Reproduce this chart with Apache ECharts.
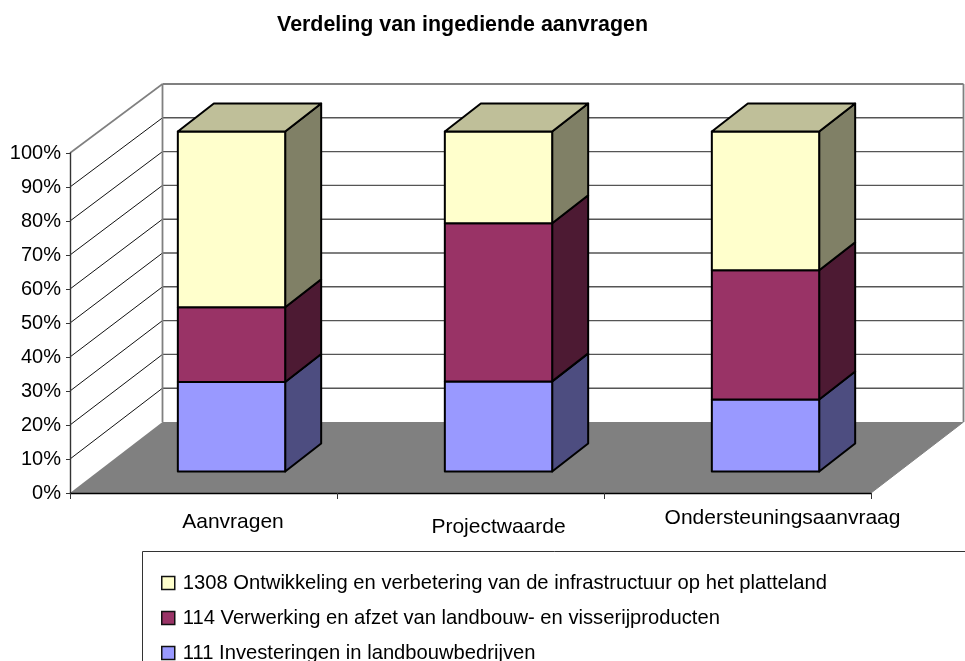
<!DOCTYPE html>
<html><head><meta charset="utf-8">
<style>html,body{margin:0;padding:0;background:#fff}#c{width:965px;height:661px}</style>
<script src="https://cdn.jsdelivr.net/npm/echarts@6/dist/echarts.min.js"></script>
</head><body><div id="c"></div>
<script>
const titleText = 'Verdeling van ingediende aanvragen';
const categories = ['Aanvragen', 'Projectwaarde', 'Ondersteuningsaanvraag'];
const seriesNames = ['111 Investeringen in landbouwbedrijven',
  '114 Verwerking en afzet van landbouw- en visserijproducten',
  '1308 Ontwikkeling en verbetering van de infrastructuur op het platteland'];
const values111 = [26.3, 26.5, 21.2];
const values114 = [22.0, 46.5, 38.0];
const values1308 = [51.7, 27.0, 40.8];
const yTicks = [0, 10, 20, 30, 40, 50, 60, 70, 80, 90, 100];

const font = 'Liberation Sans';
const faces = [
  { front: '#9999FF', side: '#4D4D80', top: '#BFBFDF' },
  { front: '#993366', side: '#4D1A33', top: '#BF8099' },
  { front: '#FFFFCC', side: '#808066', top: '#BFBF99' }
];
const wall = { dx: 92.5, dyBottom: -71, dyTop: -69 };
const bar = { dx: 36, dy: -28, offX: 28, offY: -21.5, ratio: 0.402 };
const gray = '#808080', ink = '#000';

function wallDy(v) { return wall.dyBottom + (wall.dyTop - wall.dyBottom) * v / 100; }
function poly(pts, fill, stroke, lw) {
  return { type: 'polygon', shape: { points: pts },
    style: { fill: fill, stroke: stroke || null, lineWidth: lw || 0, lineJoin: 'round' } };
}
function line(a, b, stroke, lw) {
  return { type: 'line', shape: { x1: a[0], y1: a[1], x2: b[0], y2: b[1] },
    style: { stroke: stroke, lineWidth: lw, fill: null } };
}
function renderWall(params, api) {
  const v = api.value(0);
  const last = categories.length - 1;
  const halfBand = api.size([1, 0])[0] / 2;
  const l = api.coord([0, v]); l[0] -= halfBand;
  const r = api.coord([last, v]); r[0] += halfBand;
  const bl = [l[0] + wall.dx, l[1] + wallDy(v)];
  const br = [r[0] + wall.dx, r[1] + wallDy(v)];
  const kids = [];
  if (v === 0) {
    kids.push(poly([l, r, br, bl], gray));
    kids.push(line(r, br, gray, 1));
  } else if (v === 100) {
    kids.push(line(l, bl, gray, 1.6));
    kids.push(line(bl, br, gray, 1.8));
    const b0 = api.coord([0, 0]); const b1 = api.coord([last, 0]);
    kids.push(line(bl, [b0[0] - halfBand + wall.dx, b0[1] + wallDy(0)], gray, 1.8));
    kids.push(line(br, [b1[0] + halfBand + wall.dx, b1[1] + wallDy(0)], gray, 1.8));
  } else {
    kids.push(line(l, bl, '#111', 1));
    kids.push(line(bl, br, '#555', 1.4));
  }
  return { type: 'group', children: kids };
}
function makeRender(k) {
  return function (params, api) {
    const w = api.size([1, 0])[0] * bar.ratio;
    const c0 = api.coord([api.value(0), api.value(1)]);
    const c1 = api.coord([api.value(0), api.value(2)]);
    const x0 = c0[0] + bar.offX - w / 2, x1 = x0 + w;
    const y0 = c0[1] + bar.offY, y1 = c1[1] + bar.offY;
    const kids = [
      poly([[x1, y0], [x1 + bar.dx, y0 + bar.dy], [x1 + bar.dx, y1 + bar.dy], [x1, y1]], faces[k].side, ink, 2),
      poly([[x0, y0], [x1, y0], [x1, y1], [x0, y1]], faces[k].front, ink, 2)
    ];
    if (k === 2) kids.push(poly([[x0, y1], [x1, y1], [x1 + bar.dx, y1 + bar.dy], [x0 + bar.dx, y1 + bar.dy]], faces[k].top, ink, 2));
    return { type: 'group', children: kids };
  };
}
const stacks = [values111, values114, values1308];
const barSeries = stacks.map(function (vals, k) {
  return {
    type: 'custom', name: seriesNames[k], z: 3 + k, silent: true,
    itemStyle: { color: faces[k].front, borderColor: ink, borderWidth: 1.5 },
    renderItem: makeRender(k),
    encode: { x: 0, y: [1, 2] },
    data: vals.map(function (v, i) {
      let base = 0;
      for (let j = 0; j < k; j++) base += stacks[j][i];
      return [i, base, base + v];
    })
  };
});
const labelKeys = ['a', 'b', 'c'];
const chart = echarts.init(document.getElementById('c'), null, { renderer: 'canvas' });
chart.setOption({
  animation: false,
  backgroundColor: '#fff',
  title: { text: titleText, left: 457.5, top: 10, textAlign: 'center',
    textStyle: { fontFamily: font, fontSize: 21.4, fontWeight: 'bold', color: '#000' } },
  grid: { left: 70, right: 94, top: 153, bottom: 168 },
  xAxis: {
    type: 'category', data: categories, z: 6,
    axisLine: { lineStyle: { color: '#000', width: 1.4 } },
    axisTick: { show: true, alignWithLabel: false, length: 6, lineStyle: { color: '#333', width: 1 } },
    axisLabel: { interval: 0, margin: 15, color: '#000', fontFamily: font, fontSize: 21,
      formatter: function (val) { return '{' + labelKeys[categories.indexOf(val)] + '|' + val + '}'; },
      rich: {
        a: { fontFamily: font, fontSize: 21, color: '#000', padding: [3.5, 0, 0, 59] },
        b: { fontFamily: font, fontSize: 21, color: '#000', padding: [8.5, 0, 0, 56] },
        c: { fontFamily: font, fontSize: 21, color: '#000', padding: [0, 0, 0, 90] }
      } }
  },
  yAxis: {
    type: 'value', min: 0, max: 100, interval: 10, z: 6,
    axisLine: { show: true, lineStyle: { color: '#333', width: 1.4 } },
    axisTick: { show: true, length: 4, lineStyle: { color: '#333', width: 1 } },
    splitLine: { show: false },
    axisLabel: { margin: 9, color: '#000', fontFamily: font, fontSize: 20, formatter: '{value}%' }
  },
  legend: {
    left: 156, top: 568, height: 200, width: 800, orient: 'vertical', itemWidth: 13, itemHeight: 13, itemGap: 15,
    selectedMode: false, icon: 'rect',
    textStyle: { fontFamily: font, fontSize: 20.2, color: '#000', padding: [0, 0, 0, 3] },
    data: [2, 1, 0].map(function (k) {
      return { name: seriesNames[k], itemStyle: { color: faces[k].front, borderColor: '#111', borderWidth: 1.5 } };
    })
  },
  graphic: [{ type: 'rect', silent: true, z: 0,
    shape: { x: 142.5, y: 551.5, width: 900, height: 300 },
    style: { fill: null, stroke: '#333', lineWidth: 1 } }],
  series: [{
    type: 'custom', name: 'wall', z: 1, silent: true,
    renderItem: renderWall, encode: { y: 0 },
    data: yTicks.map(function (t) { return [t]; })
  }].concat(barSeries)
});
</script></body></html>
